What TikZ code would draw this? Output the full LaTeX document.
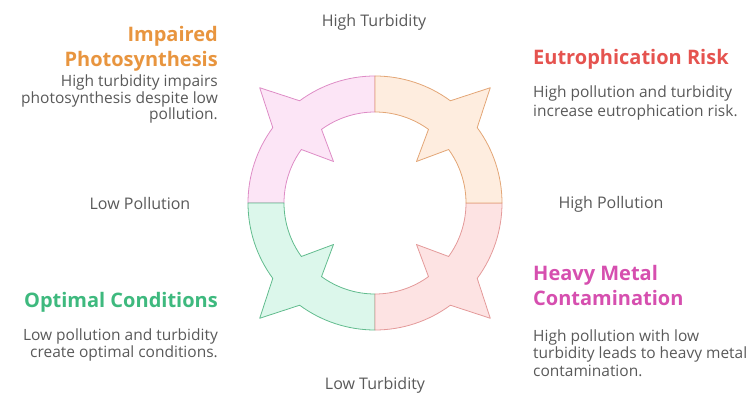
\documentclass[tikz,border=0pt]{standalone}
\usepackage{fontspec}
\setmainfont{Open Sans}
\definecolor{pkfill}{HTML}{FCE5F6}
\definecolor{pkdraw}{HTML}{DE8CC6}
\definecolor{grfill}{HTML}{DCF7EB}
\definecolor{grdraw}{HTML}{62BC8E}
\definecolor{rdfill}{HTML}{FDE3E3}
\definecolor{rddraw}{HTML}{E49A9A}
\definecolor{orfill}{HTML}{FEEDDF}
\definecolor{ordraw}{HTML}{E3A676}
\definecolor{ttlorange}{HTML}{E8953F}
\definecolor{ttlred}{HTML}{E5534F}
\definecolor{ttlmagenta}{HTML}{D64FAF}
\definecolor{ttlgreen}{HTML}{3EB97E}
\definecolor{txtgray}{HTML}{595959}
\begin{document}
\begin{tikzpicture}[x=1pt,y=1pt,
	ttl/.style={font=\bfseries\fontsize{20}{25.5}\selectfont, inner sep=0pt},
	txt/.style={font=\fontsize{15.5}{17.5}\selectfont, text=txtgray, inner sep=0pt},
	lbl/.style={font=\fontsize{16}{18}\selectfont, text=txtgray, inner sep=0pt}]
	\useasboundingbox (0,0) rectangle (753,394);
	% ring, one piece per quadrant
	\begin{scope}[shift={(375,191)}]
		\foreach \a/\fc/\dc in {90/pkfill/pkdraw, 180/grfill/grdraw, 270/rdfill/rddraw, 360/orfill/ordraw}
			\filldraw [fill=\fc, draw=\dc, line width=0.8pt, line join=round]
				(\a:127) arc [start angle=\a, end angle=\a+36.4, radius=127]
				-- ({\a+45}:163) -- ({\a+53.6}:127)
				arc [start angle=\a+53.6, end angle=\a+90, radius=127]
				-- ({\a+90}:91) arc [start angle=\a+90, end angle=\a+54, radius=91]
				-- ({\a+45}:58.7) -- ({\a+36}:91)
				arc [start angle=\a+36, end angle=\a, radius=91] -- cycle;
	\end{scope}
	% axis labels
	\node [lbl] (hiturb) at (374,372) {High Turbidity};
	\node [lbl] (lopoll) at (140,190) {Low Pollution};
	\node [lbl] (hipoll) at (611,190) {High Pollution};
	\node [lbl] (loturb) at (375,9) {Low Turbidity};
	% top left
	\node [ttl, text=ttlorange, align=right, anchor=north east] (photo) at (218,368) {Impaired\\Photosynthesis};
	\node [txt, align=right, anchor=north east, font=\fontsize{15.5}{16.5}\selectfont] (phototxt) at (218,319) {High turbidity impairs\\photosynthesis despite low\\pollution.};
	% top right
	\node [ttl, text=ttlred, align=left, anchor=north west] (eutro) at (533,344.5) {Eutrophication Risk};
	\node [txt, align=left, anchor=north west, font=\fontsize{15.5}{19}\selectfont] (eutrotxt) at (533,308) {High pollution and turbidity\\increase eutrophication risk.};
	% bottom right
	\node [ttl, text=ttlmagenta, align=left, anchor=north west] (metal) at (533,129) {Heavy Metal\\Contamination};
	\node [txt, align=left, anchor=north west] (metaltxt) at (533,64.5) {High pollution with low\\turbidity leads to heavy metal\\contamination.};
	% bottom left
	\node [ttl, text=ttlgreen, align=right, anchor=north east] (optim) at (218,102) {Optimal Conditions};
	\node [txt, align=right, anchor=north east] (optimtxt) at (218,65.5) {Low pollution and turbidity\\create optimal conditions.};
\end{tikzpicture}
\end{document}
